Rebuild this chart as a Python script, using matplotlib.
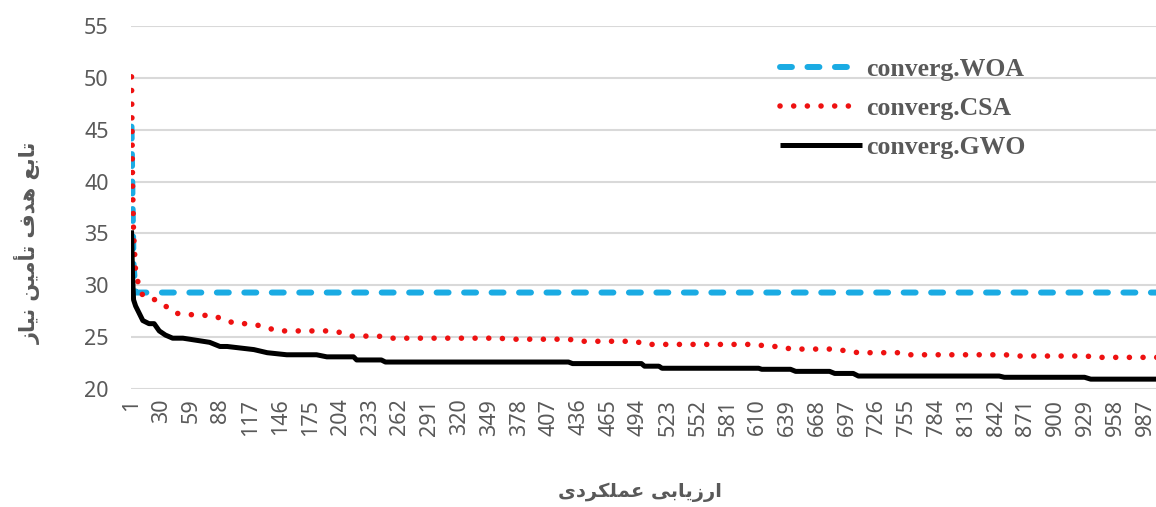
import matplotlib
matplotlib.use("Agg")
import matplotlib.pyplot as plt

# convergence curves (iteration, objective value)
woa_x = [1, 2, 3, 5, 1000]
woa = [45.3, 38.0, 32.0, 29.3, 29.3]

csa_x = [1, 2, 3, 5, 8, 12, 24, 34, 44, 67, 80, 93, 103, 117, 130, 143, 190, 202, 215, 241,
         254, 358, 371, 426, 438, 491, 501, 608, 620, 630, 643, 682, 695, 708, 747, 757, 851,
         861, 929, 942, 1000]
csa = [50.1, 40.0, 35.0, 31.3, 30.0, 29.0, 28.6, 28.0, 27.3, 27.1, 27.1, 26.6, 26.3, 26.3, 26.0,
       25.6, 25.6, 25.5, 25.1, 25.1, 24.9, 24.9, 24.8, 24.8, 24.6, 24.6, 24.3, 24.3, 24.1, 24.1,
       23.85, 23.85, 23.7, 23.5, 23.5, 23.3, 23.3, 23.18, 23.18, 23.05, 23.05]

gwo_x = [1, 2, 3, 5, 7, 12, 18, 23, 28, 34, 41, 51, 77, 87, 94, 120, 133, 152, 181, 191,
         217, 220, 244, 248, 426, 430, 497, 500, 514, 517, 611, 614, 642, 647, 680, 685, 703,
         708, 845, 850, 928, 934, 1000]
gwo = [35.3, 31.0, 28.6, 28.0, 27.6, 26.6, 26.3, 26.3, 25.6, 25.2, 24.9, 24.9, 24.5, 24.1, 24.1,
       23.8, 23.5, 23.3, 23.3, 23.1, 23.1, 22.8, 22.8, 22.6, 22.6, 22.45, 22.45, 22.2, 22.2, 22.0,
       22.0, 21.9, 21.9, 21.7, 21.7, 21.5, 21.5, 21.25, 21.25, 21.13, 21.13, 20.95, 20.95]

x_ticks = list(range(1, 1001, 29))
y_ticks = [20, 25, 30, 35, 40, 45, 50, 55]

# Persian labels, written with shaped forms and reversed for left-to-right drawing
x_title = "\uFE8D\uFEAD\uFEAF\uFEF3\uFE8E\uFE91\uFEF0 \uFECB\uFEE4\uFEE0\uFEDC\uFEAE\uFEA9\uFEEF"[::-1]
y_title = ("\uFE97\uFE8E\uFE91\uFECA \uFEEB\uFEAA\uFED1 "
           "\uFE97\uFE84\uFEE3\uFEF4\uFEE6 \uFEE7\uFEF4\uFE8E\uFEAF")[::-1]

grey = "#595959"

fig = plt.figure(figsize=(11.56, 5.07), dpi=100)
ax = fig.add_axes([131 / 1156, 1 - 389 / 507, 1 - 131 / 1156, (389 - 26) / 507])

ax.plot(woa_x, woa, color="#1aabe3", lw=4.3, ls=(0, (2.0, 2.6)),
        dash_capstyle="round", label="converg.WOA", zorder=3)
ax.plot(csa_x, csa, color="#ee1111", lw=4.0, ls=(0, (0.01, 2.45)),
        dash_capstyle="round", label="converg.CSA", zorder=4)
ax.plot(gwo_x, gwo, color="black", lw=3.6, solid_capstyle="butt",
        label="converg.GWO", zorder=5)

ax.set_xlim(0.5, 997.5)
ax.set_ylim(20, 55)
ax.set_yticks(y_ticks)
ax.set_xticks(x_ticks)
ax.set_xticklabels([str(t) for t in x_ticks], rotation=90)
ax.grid(axis="y", color="#d9d9d9", lw=1.5)
ax.set_axisbelow(True)
for s in ax.spines.values():
    s.set_visible(False)
ax.tick_params(axis="both", length=0, colors=grey, labelsize=15.5)
ax.tick_params(axis="y", pad=16)
ax.tick_params(axis="x", pad=7)
for lab in ax.get_xticklabels() + ax.get_yticklabels():
    lab.set_family("Noto Sans")

leg = fig.legend(loc="upper left", bbox_to_anchor=(780 / 1156, 1 - 58 / 507),
                 frameon=False, borderpad=0, borderaxespad=0, handlelength=3.2,
                 handletextpad=0.15, labelspacing=0.62,
                 prop={"family": "Liberation Serif", "weight": "bold", "size": 18.5})
for t in leg.get_texts():
    t.set_color(grey)

fig.text(640 / 1156, 1 - 492 / 507, x_title, ha="center", va="center",
         fontsize=14, fontweight="bold", color=grey, family="DejaVu Sans")
fig.text(28 / 1156, 1 - 243 / 507, y_title, ha="center", va="center", rotation=90,
         fontsize=15, fontweight="bold", color=grey, family="DejaVu Sans")

fig.savefig("out.png", dpi=100)
